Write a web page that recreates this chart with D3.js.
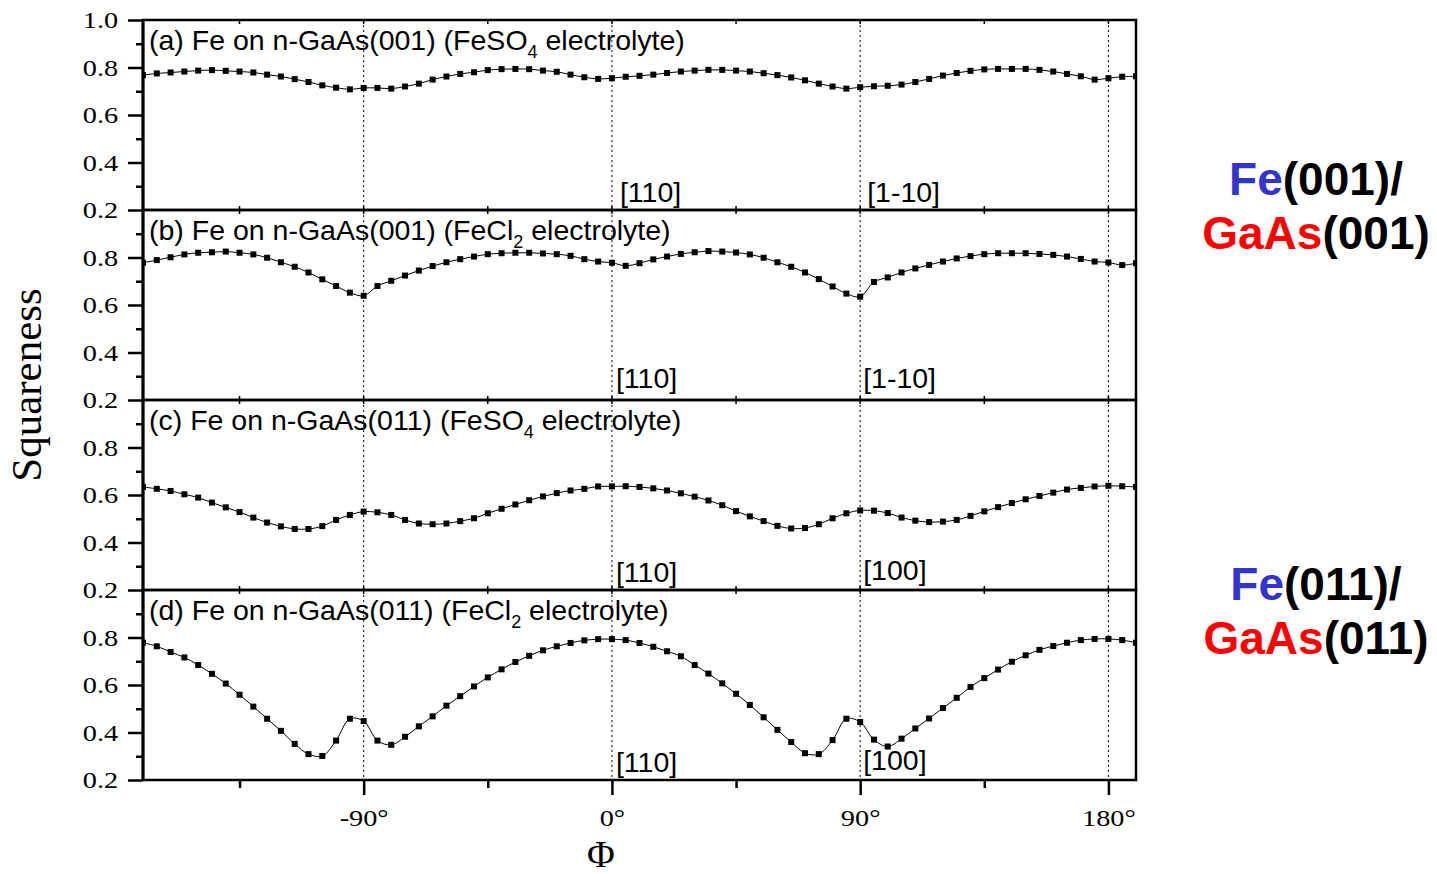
<!DOCTYPE html>
<html>
<head>
<meta charset="utf-8">
<script src="https://cdn.jsdelivr.net/npm/d3@7"></script>
<style>
  body { margin: 0; background: #fff; }
  svg { display: block; }
</style>
</head>
<body>
<svg width="1437" height="874"></svg>
<script>
// azimuth angles (deg), one sample every 5 degrees
var phi = [-170,-165,-160,-155,-150,-145,-140,-135,-130,-125,-120,-115,-110,-105,-100,-95,-90,-85,-80,-75,-70,-65,-60,-55,-50,-45,-40,-35,-30,-25,-20,-15,-10,-5,
  0,5,10,15,20,25,30,35,40,45,50,55,60,65,70,75,80,85,90,95,100,105,110,115,120,125,130,135,140,145,150,155,160,165,170,175,180,185,190];

// squareness
var squareA = [0.768,0.775,0.779,0.783,0.787,0.789,0.786,0.783,0.779,0.770,0.762,0.751,0.739,0.725,0.715,0.708,0.714,0.714,0.711,0.720,0.732,0.749,0.762,0.773,0.780,0.789,0.793,0.794,0.793,0.787,0.782,0.770,0.759,0.752,
  0.755,0.761,0.765,0.770,0.777,0.783,0.787,0.790,0.790,0.787,0.783,0.776,0.768,0.758,0.746,0.732,0.720,0.711,0.717,0.721,0.723,0.728,0.739,0.752,0.766,0.777,0.786,0.792,0.794,0.794,0.794,0.790,0.783,0.773,0.763,0.749,0.755,0.761,0.763];
var squareB = [0.778,0.789,0.801,0.813,0.820,0.822,0.825,0.820,0.813,0.799,0.780,0.761,0.737,0.708,0.680,0.652,0.639,0.680,0.702,0.724,0.745,0.764,0.780,0.793,0.804,0.814,0.818,0.820,0.820,0.817,0.814,0.807,0.793,0.783,
  0.778,0.765,0.776,0.792,0.804,0.815,0.822,0.827,0.825,0.821,0.813,0.799,0.780,0.761,0.737,0.709,0.678,0.648,0.635,0.697,0.716,0.737,0.754,0.769,0.783,0.796,0.806,0.814,0.818,0.818,0.818,0.815,0.811,0.804,0.794,0.783,0.779,0.768,0.776];
var squareC = [0.634,0.626,0.617,0.603,0.589,0.568,0.548,0.528,0.505,0.484,0.468,0.457,0.457,0.469,0.495,0.516,0.530,0.527,0.516,0.495,0.480,0.477,0.480,0.490,0.502,0.523,0.542,0.560,0.578,0.594,0.608,0.619,0.626,0.636,
  0.636,0.637,0.634,0.628,0.619,0.607,0.593,0.577,0.557,0.532,0.510,0.490,0.470,0.459,0.461,0.477,0.502,0.523,0.535,0.534,0.524,0.505,0.492,0.486,0.488,0.495,0.512,0.531,0.549,0.566,0.582,0.596,0.610,0.623,0.630,0.636,0.639,0.637,0.634];
var squareD = [0.778,0.763,0.739,0.716,0.684,0.647,0.606,0.559,0.509,0.458,0.407,0.352,0.309,0.301,0.366,0.458,0.448,0.366,0.348,0.382,0.426,0.468,0.513,0.553,0.594,0.632,0.666,0.697,0.723,0.746,0.763,0.777,0.788,0.793,
  0.793,0.789,0.777,0.761,0.742,0.721,0.684,0.648,0.607,0.563,0.516,0.464,0.411,0.360,0.313,0.309,0.368,0.458,0.444,0.370,0.341,0.374,0.417,0.459,0.503,0.546,0.592,0.629,0.665,0.698,0.725,0.748,0.764,0.778,0.789,0.794,0.794,0.789,0.778];

// panel captions: [before subscript, subscript, after]
var captions = [
  ["(a) Fe on n-GaAs(001) (FeSO", "4", " electrolyte)"],
  ["(b) Fe on n-GaAs(001) (FeCl", "2", " electrolyte)"],
  ["(c) Fe on n-GaAs(011) (FeSO", "4", " electrolyte)"],
  ["(d) Fe on n-GaAs(011) (FeCl", "2", " electrolyte)"]
];
// crystal directions marked at 0 and 90 degrees
var dirAt0  = ["[110]", "[110]", "[110]", "[110]"];
var dirAt90 = ["[1-10]", "[1-10]", "[100]", "[100]"];

var yTicksMajor = [0.2, 0.4, 0.6, 0.8];
var yTicksMinor = [0.3, 0.5, 0.7, 0.9];
var xTicksMajor = [-90, 0, 90, 180];
var xTicksMinor = [-135, -45, 45, 135];

var series = [squareA, squareB, squareC, squareD];

var svg = d3.select("svg"),
    plotLeft = 143, plotRight = 1136, plotTop = 20, panelH = 190,
    plotBottom = plotTop + panelH * 4,
    serif = "'Liberation Serif','Times New Roman',serif",
    sans = "'Liberation Sans',Arial,sans-serif",
    tickFont = 24, tickStretch = "scale(1.18,1)", labelFont = 28.5;

var x = d3.scaleLinear().domain([-170, 190]).range([plotLeft, plotRight]);

svg.append("defs").append("clipPath").attr("id", "plotclip")
   .append("rect").attr("x", plotLeft).attr("y", plotTop - 10)
   .attr("width", plotRight - plotLeft).attr("height", panelH * 4 + 20);

// dotted guides at the main directions, through all panels
svg.append("g").selectAll("line")
   .data(xTicksMajor).enter().append("line")
   .attr("x1", function(d) { return x(d); }).attr("x2", function(d) { return x(d); })
   .attr("y1", plotTop).attr("y2", plotBottom)
   .attr("stroke", "#000").attr("stroke-width", 1).attr("stroke-dasharray", "2,3");

series.forEach(function(vals, i) {
  var pTop = plotTop + i * panelH, pBot = pTop + panelH;
  var y = d3.scaleLinear().domain([0.2, 1.0]).range([pBot, pTop]);
  var pts = phi.map(function(p, k) { return {phi: p, v: vals[k]}; });

  var panel = svg.append("g").attr("class", "panel");

  // left axis, major + minor
  var ax = panel.append("g").attr("transform", "translate(" + plotLeft + ",0)")
     .call(d3.axisLeft(y).tickValues(i === 0 ? yTicksMajor.concat([1.0]) : yTicksMajor)
           .tickSize(15).tickPadding(6).tickFormat(d3.format(".1f")));
  ax.select(".domain").remove();
  ax.selectAll("line").attr("stroke-width", 2.5);
  ax.selectAll("text").attr("font-family", serif).attr("font-size", tickFont)
    .attr("fill", "#000").attr("transform", tickStretch);

  var axm = panel.append("g").attr("transform", "translate(" + plotLeft + ",0)")
     .call(d3.axisLeft(y).tickValues(yTicksMinor).tickSize(7).tickFormat(""));
  axm.select(".domain").remove();
  axm.selectAll("line").attr("stroke-width", 2.5);

  // little inward ticks on the panel's top and bottom edges
  var inner = xTicksMajor.concat(xTicksMinor);
  panel.append("g").selectAll("line").data(inner).enter().append("line")
     .attr("x1", function(d) { return x(d); }).attr("x2", function(d) { return x(d); })
     .attr("y1", pTop).attr("y2", pTop + 4).attr("stroke", "#000").attr("stroke-width", 1.5);
  if (i < 3) {
    panel.append("g").selectAll("line").data(inner).enter().append("line")
       .attr("x1", function(d) { return x(d); }).attr("x2", function(d) { return x(d); })
       .attr("y1", pBot - 4).attr("y2", pBot).attr("stroke", "#000").attr("stroke-width", 1.5);
  }

  // curve + square markers
  var line = d3.line()
     .x(function(d) { return x(d.phi); })
     .y(function(d) { return y(d.v); })
     .curve(d3.curveCatmullRom.alpha(0.5));

  var marks = panel.append("g").attr("clip-path", "url(#plotclip)");
  marks.append("path").datum(pts)
      .attr("d", line).attr("fill", "none").attr("stroke", "#000").attr("stroke-width", 1);
  marks.selectAll("rect").data(pts).enter().append("rect")
      .attr("x", function(d) { return x(d.phi) - 3; })
      .attr("y", function(d) { return y(d.v) - 3; })
      .attr("width", 6).attr("height", 6).attr("fill", "#000");

  // frame
  panel.append("rect").attr("x", plotLeft).attr("y", pTop)
       .attr("width", plotRight - plotLeft).attr("height", panelH)
       .attr("fill", "none").attr("stroke", "#000").attr("stroke-width", 2.5);

  // caption with subscript
  var cap = panel.append("text").attr("x", plotLeft + 6).attr("y", pTop + 30)
     .attr("font-family", sans).attr("font-size", labelFont).attr("fill", "#000");
  cap.append("tspan").text(captions[i][0]);
  cap.append("tspan").attr("font-size", 18).attr("dy", 8).text(captions[i][1]);
  cap.append("tspan").attr("dy", -8).text(captions[i][2]);

  // direction labels
  var off = [8, 12, 8, 8][i];
  panel.append("text").attr("x", x(0) + (i === 0 ? 8 : 4)).attr("y", pBot - off)
       .attr("font-family", sans).attr("font-size", labelFont).text(dirAt0[i]);
  panel.append("text").attr("x", x(90) + (i === 0 ? 7 : 3)).attr("y", pBot - off - (i >= 2 ? 2 : 0))
       .attr("font-family", sans).attr("font-size", labelFont).text(dirAt90[i]);
});

// left spine drawn heavier
svg.append("line").attr("x1", plotLeft).attr("x2", plotLeft)
   .attr("y1", plotTop).attr("y2", plotBottom)
   .attr("stroke", "#000").attr("stroke-width", 3);

// bottom axis
var xa = svg.append("g").attr("transform", "translate(0," + plotBottom + ")")
   .call(d3.axisBottom(x).tickValues(xTicksMajor).tickSize(15).tickPadding(14)
         .tickFormat(function(d) { return d + "\u00b0"; }));
xa.select(".domain").remove();
xa.selectAll("line").attr("stroke-width", 2.5);
xa.selectAll("text").attr("font-family", serif).attr("font-size", tickFont)
  .attr("fill", "#000").attr("transform", tickStretch);

var xm = svg.append("g").attr("transform", "translate(0," + plotBottom + ")")
   .call(d3.axisBottom(x).tickValues(xTicksMinor).tickSize(8).tickFormat(""));
xm.select(".domain").remove();
xm.selectAll("line").attr("stroke-width", 2.5);

// axis titles
svg.append("text").attr("x", 601).attr("y", 867).attr("text-anchor", "middle")
   .attr("font-family", serif).attr("font-size", 38).text("\u03a6");

svg.append("text").attr("transform", "translate(41,385) rotate(-90)")
   .attr("text-anchor", "middle").attr("font-family", serif).attr("font-size", 43)
   .text("Squareness");

// sample labels on the right
var blue = "#3434cc", red = "#ff0000";
function sampleLabel(yBase, orient) {
  var t1 = svg.append("text").attr("x", 1316).attr("y", yBase).attr("text-anchor", "middle")
     .attr("font-family", sans).attr("font-weight", "bold").attr("font-size", 46);
  t1.append("tspan").attr("fill", blue).text("Fe");
  t1.append("tspan").attr("fill", "#000").text("(" + orient + ")/");
  var t2 = svg.append("text").attr("x", 1316).attr("y", yBase + 54).attr("text-anchor", "middle")
     .attr("font-family", sans).attr("font-weight", "bold").attr("font-size", 46);
  t2.append("tspan").attr("fill", red).text("GaAs");
  t2.append("tspan").attr("fill", "#000").text("(" + orient + ")");
}
sampleLabel(195, "001");
sampleLabel(600, "011");
</script>
</body>
</html>
